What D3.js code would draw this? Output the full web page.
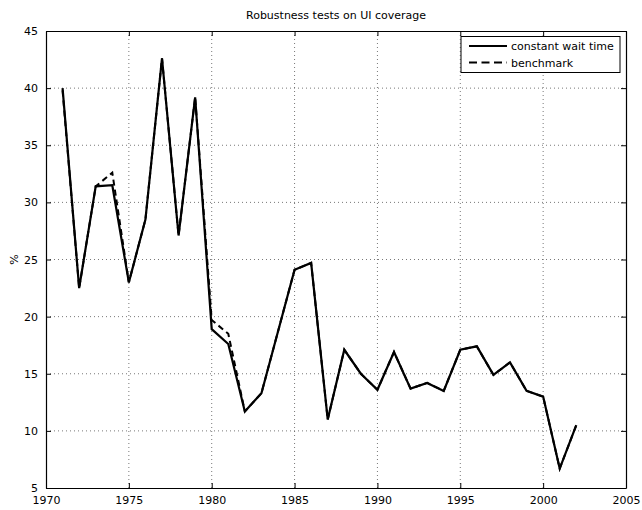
<!DOCTYPE html>
<html>
<head>
<meta charset="utf-8">
<script src="https://cdn.jsdelivr.net/npm/d3@7"></script>
<style>
  body { margin: 0; background: #fff; }
  text { font-family: "DejaVu Sans", "Liberation Sans", Arial, sans-serif; fill: #000; }
</style>
</head>
<body>
<script>
var years = d3.range(1971, 2003);
var constantWait = [40.0, 22.5, 31.4, 31.5, 23.0, 28.5, 42.6, 27.1, 39.2, 18.9,
  17.6, 11.7, 13.3, 18.7, 24.1, 24.7, 11.0, 17.1, 15.0, 13.6,
  16.9, 13.7, 14.2, 13.5, 17.1, 17.4, 14.9, 16.0, 13.5, 13.0,
  6.7, 10.5];
var benchmark = [39.8, 22.5, 31.4, 32.6, 23.0, 28.5, 42.6, 27.1, 39.2, 19.7,
  18.5, 11.7, 13.3, 18.7, 24.1, 24.7, 11.0, 17.1, 15.0, 13.6,
  16.9, 13.7, 14.2, 13.5, 17.1, 17.4, 14.9, 16.0, 13.5, 13.0,
  6.7, 10.5];
var xTicks = [1970, 1975, 1980, 1985, 1990, 1995, 2000, 2005];
var yTicks = [5, 10, 15, 20, 25, 30, 35, 40, 45];
var seriesNames = ['constant wait time', 'benchmark'];

var w = 642, h = 510;
var m = {left: 46, right: 16, top: 31, bottom: 22};

var svg = d3.select('body').append('svg')
  .attr('width', w)
  .attr('height', h);

var x = d3.scaleLinear().domain([1970, 2005]).range([m.left, w - m.right]);
var y = d3.scaleLinear().domain([5, 45]).range([h - m.bottom, m.top]);

// dotted grid
var grid = svg.append('g')
  .attr('stroke', '#555')
  .attr('stroke-width', 0.8)
  .attr('stroke-dasharray', '1,3');
grid.selectAll('.gx').data(xTicks.slice(1, -1)).enter().append('line')
  .attr('x1', d => x(d)).attr('x2', d => x(d))
  .attr('y1', y(5)).attr('y2', y(45));
grid.selectAll('.gy').data(yTicks.slice(1, -1)).enter().append('line')
  .attr('x1', x(1970)).attr('x2', x(2005))
  .attr('y1', d => y(d)).attr('y2', d => y(d));

// axes with inward ticks, boxed
var fs = '11px';
var ax = function(g) {
  g.selectAll('path').attr('stroke', '#000').attr('stroke-width', 1.2);
  g.selectAll('line').attr('stroke', '#000');
  g.selectAll('text').style('font-size', fs).attr('fill', '#000');
};
svg.append('g').attr('transform', 'translate(0,' + y(5) + ')')
  .call(d3.axisBottom(x).tickValues(xTicks).tickFormat(d3.format('d')).tickSizeInner(-5).tickSizeOuter(0).tickPadding(8))
  .call(ax);
svg.append('g').attr('transform', 'translate(0,' + y(45) + ')')
  .call(d3.axisTop(x).tickValues(xTicks).tickFormat('').tickSizeInner(-5).tickSizeOuter(0))
  .call(ax);
svg.append('g').attr('transform', 'translate(' + x(1970) + ',0)')
  .call(d3.axisLeft(y).tickValues(yTicks).tickSizeInner(-5).tickSizeOuter(0).tickPadding(8))
  .call(ax);
svg.append('g').attr('transform', 'translate(' + x(2005) + ',0)')
  .call(d3.axisRight(y).tickValues(yTicks).tickFormat('').tickSizeInner(-5).tickSizeOuter(0))
  .call(ax);

// lines
var line = function(vals) {
  return d3.line().x((d, i) => x(years[i])).y(d => y(d))(vals);
};
svg.append('path')
  .attr('d', line(benchmark))
  .attr('fill', 'none').attr('stroke', '#000').attr('stroke-width', 2)
  .attr('stroke-dasharray', '6,4');
svg.append('path')
  .attr('d', line(constantWait))
  .attr('fill', 'none').attr('stroke', '#000').attr('stroke-width', 2.2)
  .attr('stroke-linejoin', 'miter');

// title and y label
svg.append('text')
  .attr('x', (x(1970) + x(2005)) / 2).attr('y', 19)
  .attr('text-anchor', 'middle').style('font-size', fs)
  .text('Robustness tests on UI coverage');
svg.append('text')
  .attr('transform', 'translate(18,' + ((y(5) + y(45)) / 2) + ') rotate(-90)')
  .attr('text-anchor', 'middle').style('font-size', fs)
  .text('%');

// legend
var lg = svg.append('g');
lg.append('rect')
  .attr('x', 461).attr('y', 36.5).attr('width', 159).attr('height', 36)
  .attr('fill', '#fff').attr('stroke', '#000').attr('stroke-width', 1);
seriesNames.forEach(function(name, i) {
  var cy = 46 + i * 16.5;
  lg.append('line')
    .attr('x1', 469).attr('x2', 507).attr('y1', cy).attr('y2', cy)
    .attr('stroke', '#000').attr('stroke-width', 2)
    .attr('stroke-dasharray', i === 1 ? '8,4.5' : null);
  lg.append('text')
    .attr('x', 511).attr('y', cy + 4)
    .style('font-size', fs)
    .text(name);
});
</script>
</body>
</html>
